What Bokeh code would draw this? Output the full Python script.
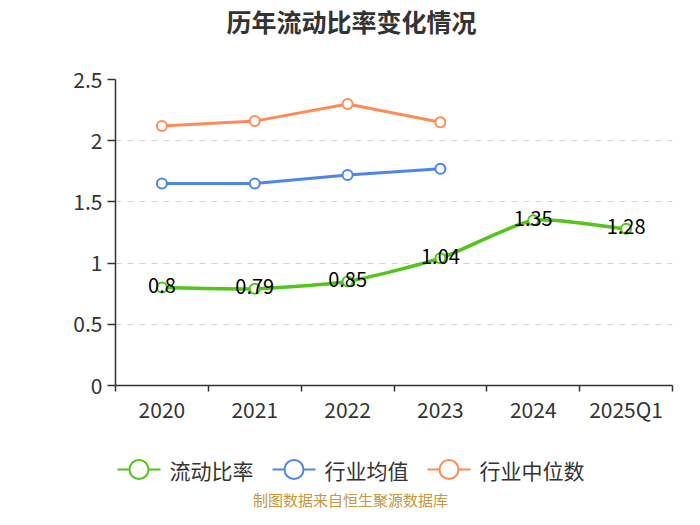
from bokeh.plotting import figure
from bokeh.layouts import column
from bokeh.models import Range1d, FixedTicker, Label, ColumnDataSource
from bokeh.core.properties import value
from bokeh.embed import file_html
from bokeh.resources import INLINE

# ---- data ----
categories = ["2020", "2021", "2022", "2023", "2024", "2025Q1"]
current_ratio = [0.8, 0.79, 0.85, 1.04, 1.35, 1.28]
industry_mean = [1.65, 1.65, 1.72, 1.77]
industry_median = [2.12, 2.16, 2.30, 2.15]
y_ticks = [0, 0.5, 1, 1.5, 2, 2.5]
y_tick_labels = ["0", "0.5", "1", "1.5", "2", "2.5"]
series_names = ["流动比率", "行业均值", "行业中位数"]
title_text = "历年流动比率变化情况"
footer_text = "制图数据来自恒生聚源数据库"

GREEN = "#52c41a"
BLUE = "#4d86e6"
ORANGE = "#ff8c55"
COLORS = [GREEN, BLUE, ORANGE]
FONT = "Noto Sans CJK SC"

W = 684
HT, HM, HB = 40, 400, 69          # title strip, main chart, legend strip
FL, FR = 115, 672                 # frame left / right on the canvas
FT, FB = 79 - HT, 385 - HT        # frame top / bottom inside the main figure


def strip(height):
    # x data units equal canvas pixels (frame aligned with the main chart's frame)
    f = figure(width=W, height=height, output_backend="svg", toolbar_location=None,
               x_range=Range1d(FL, FR), y_range=Range1d(height, 0),
               min_border_left=FL, min_border_right=W - FR,
               min_border_top=0, min_border_bottom=0)
    f.axis.visible = False
    f.grid.visible = False
    f.outline_line_color = None
    return f


# ---- title strip ----
t = strip(HT)
t.add_layout(Label(x=351, y=20, text=title_text, text_font=FONT, text_font_size="25px",
                   text_font_style="bold", text_color="#333333",
                   text_align="center", text_baseline="middle"))

# ---- main chart ----
p = figure(width=W, height=HM, output_backend="svg", toolbar_location=None,
           x_range=Range1d(0, len(categories)), y_range=Range1d(0, 2.5),
           min_border_left=FL, min_border_right=W - FR, min_border_top=FT,
           min_border_bottom=HM - FB)
p.outline_line_color = None
p.xgrid.grid_line_color = None
p.ygrid.grid_line_color = "#d2d2d2"
p.ygrid.grid_line_dash = "6 6"
p.ygrid.grid_line_width = 1.2

centers = [i + 0.5 for i in range(len(categories))]

# x axis: labels at category centres, ticks at category boundaries
p.xaxis.ticker = FixedTicker(ticks=centers, minor_ticks=list(range(len(categories) + 1)))
p.xaxis.major_label_overrides = {c: lab for c, lab in zip(centers, categories)}
p.xaxis.major_tick_out = 0
p.xaxis.major_tick_in = 0
p.xaxis.minor_tick_out = 6
p.xaxis.minor_tick_in = 0
p.xaxis.minor_tick_line_color = "#333333"
p.xaxis.minor_tick_line_width = 1.5
p.xaxis.axis_line_color = "#333333"
p.xaxis.axis_line_width = 1.5
p.xaxis.major_label_text_font = FONT
p.xaxis.major_label_text_font_size = "21px"
p.xaxis.major_label_text_color = "#333333"
p.xaxis.major_label_standoff = 2

p.yaxis.ticker = FixedTicker(ticks=y_ticks)
p.yaxis.major_label_overrides = {tk: lab for tk, lab in zip(y_ticks, y_tick_labels)}
p.yaxis.minor_tick_line_color = None
p.yaxis.major_tick_out = 8
p.yaxis.major_tick_in = 0
p.yaxis.major_tick_line_color = "#333333"
p.yaxis.major_tick_line_width = 1.5
p.yaxis.axis_line_color = "#333333"
p.yaxis.axis_line_width = 1.5
p.yaxis.major_label_text_font = FONT
p.yaxis.major_label_text_font_size = "21px"
p.yaxis.major_label_text_color = "#333333"
p.yaxis.major_label_standoff = 5


def smooth_bezier(xs, ys, sx, sy, smooth=0.2):
    # echarts-style smoothing, distances measured in approx pixel space
    n = len(xs)
    pts = [(x * sx, y * sy) for x, y in zip(xs, ys)]
    cps = []
    for i in range(n):
        prev = pts[i - 1] if i > 0 else pts[i]
        nxt = pts[i + 1] if i < n - 1 else pts[i]
        vx, vy = (nxt[0] - prev[0]) * smooth, (nxt[1] - prev[1]) * smooth
        d0 = ((pts[i][0] - prev[0]) ** 2 + (pts[i][1] - prev[1]) ** 2) ** 0.5
        d1 = ((pts[i][0] - nxt[0]) ** 2 + (pts[i][1] - nxt[1]) ** 2) ** 0.5
        s = d0 + d1
        a0, a1 = (d0 / s, d1 / s) if s else (0, 0)
        c0 = (pts[i][0] - vx * a0, pts[i][1] - vy * a0)
        c1 = (pts[i][0] + vx * a1, pts[i][1] + vy * a1)
        cps.append((c0, c1))
    data = dict(x0=[], y0=[], x1=[], y1=[], cx0=[], cy0=[], cx1=[], cy1=[])
    for i in range(n - 1):
        data["x0"].append(xs[i]); data["y0"].append(ys[i])
        data["x1"].append(xs[i + 1]); data["y1"].append(ys[i + 1])
        data["cx0"].append(cps[i][1][0] / sx); data["cy0"].append(cps[i][1][1] / sy)
        data["cx1"].append(cps[i + 1][0][0] / sx); data["cy1"].append(cps[i + 1][0][1] / sy)
    return data


# green smooth line
bz = smooth_bezier(centers, current_ratio, 92.8, 122.4)
p.bezier(x0="x0", y0="y0", x1="x1", y1="y1", cx0="cx0", cy0="cy0", cx1="cx1", cy1="cy1",
         source=ColumnDataSource(bz), line_color=GREEN, line_width=3.5)
p.scatter(centers, current_ratio, marker="circle", size=10, fill_color="white",
          line_color=GREEN, line_width=2)

p.line(centers[:len(industry_mean)], industry_mean, line_color=BLUE, line_width=3)
p.scatter(centers[:len(industry_mean)], industry_mean, marker="circle", size=10,
          fill_color="white", line_color=BLUE, line_width=2)
p.line(centers[:len(industry_median)], industry_median, line_color=ORANGE, line_width=3)
p.scatter(centers[:len(industry_median)], industry_median, marker="circle", size=10,
          fill_color="white", line_color=ORANGE, line_width=2)

# data labels
p.text(centers, current_ratio, text=[f"{v:g}" for v in current_ratio],
       text_font=value(FONT), text_font_size="20px", text_color="#000000",
       text_align="center", text_baseline="middle", y_offset=-2)

# ---- legend + footer strip ----
q = strip(HB)
LEG_Y = 29
leg_x = [117, 272, 427]       # left edge of each legend key
KEY_W = 43
q.segment(x0=leg_x, y0=[LEG_Y] * 3, x1=[x + KEY_W for x in leg_x], y1=[LEG_Y] * 3,
          line_color=COLORS, line_width=2)
q.scatter(x=[x + KEY_W / 2 for x in leg_x], y=[LEG_Y] * 3, marker="circle", size=19,
          fill_color="white", line_color=COLORS, line_width=2)
q.text(x=[x + KEY_W + 9 for x in leg_x], y=[LEG_Y] * 3, text=series_names,
       text_font=value(FONT), text_font_size="21px", text_color="#333333",
       text_align="left", text_baseline="middle")
q.add_layout(Label(x=350, y=59, text=footer_text, text_font=FONT,
                   text_font_size="15px", text_color="#c8963c",
                   text_align="center", text_baseline="middle"))

open("out.html", "w").write(file_html(column(t, p, q, spacing=0), INLINE))
